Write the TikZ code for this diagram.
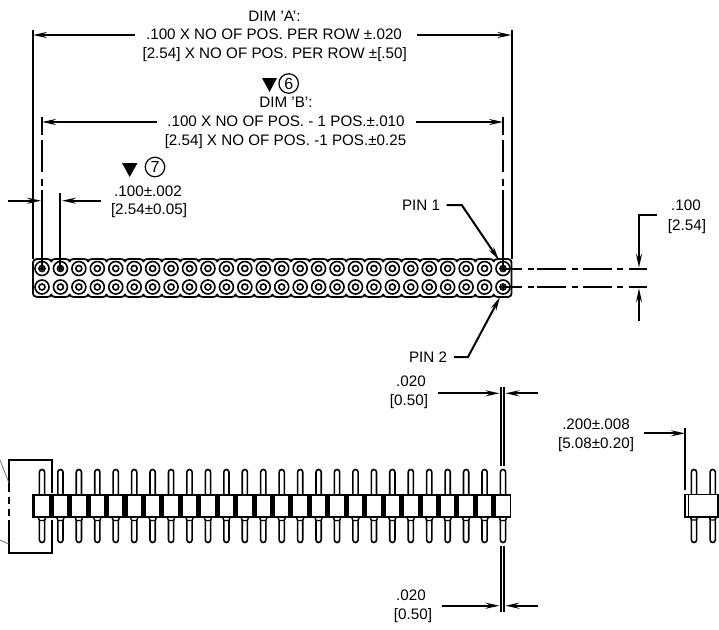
\documentclass[tikz,border=0pt]{standalone}
\usepackage{fontspec}
\setmainfont{Liberation Sans}
\usetikzlibrary{arrows.meta}
\tikzset{
  x=1pt,y=-1pt,
  lbl/.style={anchor=base,inner sep=0pt,font=\fontsize{15.2}{17}\selectfont},
  ln/.style={line width=2pt,line cap=butt},
  thin gray/.style={line width=0.7pt,draw=black!60},
  dimarrow/.style={ln,-{Stealth[length=14pt,width=6pt,inset=5pt]}},
  pinshape/.style={draw=black,fill=white,line width=1.6pt,rounded corners=2.6pt},
  tri/.style={fill=black,draw=none},
  balloon/.style={circle,draw=black,line width=1.2pt,minimum size=19.5pt,inner sep=0pt,font=\fontsize{16}{17}\selectfont},
}
\begin{document}
\begin{tikzpicture}
\useasboundingbox (0,0) rectangle (719,629);
% ---------- texts
\node[lbl] (dimAa) at (274.5,21) {DIM 'A':};
\node[lbl] (dimAb) at (274,39) {.100 X NO OF POS. PER ROW ±.020};
\node[lbl] (dimAc) at (274.7,58) {[2.54] X NO OF POS. PER ROW ±[.50]};
\node[lbl] (dimBa) at (286,107.5) {DIM 'B':};
\node[lbl] (dimBb) at (286,126.5) {.100 X NO OF POS. - 1 POS.±.010};
\node[lbl] (dimBc) at (285.5,145) {[2.54] X NO OF POS. -1 POS.±0.25};
\node[lbl] (pitcha) at (148,196) {.100±.002};
\node[lbl] (pitchb) at (149,214) {[2.54±0.05]};
\node[lbl] (pinone) at (421,210.5) {PIN 1};
\node[lbl] (pintwo) at (428,362.5) {PIN 2};
\node[lbl] (rowa) at (686,210.5) {.100};
\node[lbl] (rowb) at (687,230) {[2.54]};
\node[lbl] (toa) at (411,386) {.020};
\node[lbl] (tob) at (409,405) {[0.50]};
\node[lbl] (boa) at (411,600) {.020};
\node[lbl] (bob) at (413,619) {[0.50]};
\node[lbl] (wida) at (596,429) {.200±.008};
\node[lbl] (widb) at (596,448) {[5.08±0.20]};
% ---------- balloons
\fill[tri] (262,78) -- (277,78) -- (269.5,92) -- cycle;
\node[balloon] (bsix) at (288.7,83.5) {6};
\fill[tri] (122,163) -- (137.5,163) -- (129.7,177) -- cycle;
\node[balloon] (bseven) at (155,167) {7};
% ---------- extension lines
\draw[ln] (33,30) -- (33,259);
\draw[ln] (511.5,30) -- (511.5,259);
\foreach \xx in {42,503}{
  \draw[ln] (\xx,117) -- (\xx,135);
  \draw[ln] (\xx,140) -- (\xx,172);
  \draw[ln] (\xx,179) -- (\xx,186);
  \draw[ln] (\xx,190) -- (\xx,268.5);
}
\draw[ln] (60.4,193) -- (60.4,268.5);
% ---------- dim arrows top
\coordinate (aL) at (33,35); \coordinate (aR) at (511.5,35);
\coordinate (bL) at (42,122); \coordinate (bR) at (503,122);
\coordinate (aLs) at (135,35); \coordinate (aRs) at (416.7,35);
\coordinate (bLs) at (157,122); \coordinate (bRs) at (416,122);
\draw[dimarrow] (aLs) -- (aL);
\draw[dimarrow] (aRs) -- (aR);
\draw[dimarrow] (bLs) -- (bL);
\draw[dimarrow] (bRs) -- (bR);
\coordinate (cLs) at (8,200.7); \coordinate (cL) at (41,200.7);
\coordinate (cRs) at (100.7,200.7); \coordinate (cR) at (62,200.7);
\draw[dimarrow] (cLs) -- (cL);
\draw[dimarrow] (cRs) -- (cR);
% ---------- top view strip
\draw[line width=1.8pt,fill=white,line join=round]
  (33,264) .. controls (33,260.5) and (34,259) .. (37,259)
  \foreach \i in {0,...,24}{
    -- ({42+18.44*\i+5},259)
    .. controls ({42+18.44*\i+7.5},259) and ({42+18.44*\i+9},260) .. ({42+18.44*\i+9.22},261.5)
    .. controls ({42+18.44*\i+9.44},260) and ({42+18.44*\i+11},259) .. ({42+18.44*\i+13.44},259)
  }
  -- (508,259) .. controls (510.5,259) and (511.5,260.5) .. (511.5,264)
  -- (511.5,292) .. controls (511.5,295.5) and (510.5,297) .. (508,297)
  \foreach \i in {24,...,0}{
    -- ({42+18.44*\i+13.44},297)
    .. controls ({42+18.44*\i+11},297) and ({42+18.44*\i+9.44},296) .. ({42+18.44*\i+9.22},294.5)
    .. controls ({42+18.44*\i+9},296) and ({42+18.44*\i+7.5},297) .. ({42+18.44*\i+5},297)
  }
  -- (37,297) .. controls (34,297) and (33,295.5) .. (33,292) -- cycle;
\foreach \i in {0,...,25}{
  \foreach \yy in {268.5,287}{
    \draw[line width=1.6pt] ({42+18.44*\i},\yy) circle[radius=7pt];
    \draw[line width=1.6pt] ({42+18.44*\i},\yy) circle[radius=3pt];
  }
}
\foreach \p in {(42,268.5),(60.4,268.5),(503,268.5),(503,287)}{
  \fill \p circle[radius=2pt];
}
% redraw verticals over the circles
\draw[ln] (42,255) -- (42,268.5);
\draw[ln] (60.4,255) -- (60.4,268.5);
\draw[ln] (503,255) -- (503,268.5);
% ---------- centre lines
\foreach \yy in {268.5,287}{
  \foreach \a/\b in {503/522,528/534,537/566,572/578,583/612,617/623,629/647}{
    \draw[ln] (\a,\yy) -- (\b,\yy);
  }
}
% ---------- .100 row pitch
\coordinate (rs) at (656.7,215); \coordinate (rc) at (639,215); \coordinate (rt) at (639,267.7);
\coordinate (rb) at (639,320.7); \coordinate (rbt) at (639,288.3);
\draw[dimarrow] (rs) -- (rc) -- (rt);
\draw[dimarrow] (rb) -- (rbt);
% ---------- pin leaders
\coordinate (p1a) at (446.7,205); \coordinate (p1b) at (461.7,205); \coordinate (p1c) at (499,260);
\coordinate (p2a) at (454,357); \coordinate (p2b) at (468,357); \coordinate (p2c) at (500,297);
\draw[dimarrow] (p1a) -- (p1b) -- (p1c);
\draw[dimarrow] (p2a) -- (p2b) -- (p2c);
% ---------- side view pins
\foreach \i in {0,...,25}{
  \path[pinshape] ({42+18.44*\i-2.6},469.5) rectangle ({42+18.44*\i+2.6},500);
  \path[pinshape] ({42+18.44*\i-2.6},510) rectangle ({42+18.44*\i+2.6},542.5);
}
% body
\fill[black] (32,494) rectangle (511,518);
\foreach \i in {0,...,25}{
  \fill[white] ({42+18.44*\i-6.7},496) rectangle ({42+18.44*\i+6.7},516);
  \draw[line width=1.4pt,fill=white] ({42+18.44*\i-3.6},518) -- ({42+18.44*\i-2.4},520.5) -- ({42+18.44*\i+2.4},520.5) -- ({42+18.44*\i+3.6},518);
}
% break box
\draw[ln] (9,492) -- (9,460) -- (51.7,460) -- (51.7,493);
\draw[ln] (51.7,520) -- (51.7,553) -- (9,553) -- (9,520);
\draw[ln] (9,497) -- (9,504);
\draw[ln] (9,509) -- (9,516);
\coordinate (lg1) at (0,460); \coordinate (lg2) at (9,483);
\coordinate (lg3) at (0,540); \coordinate (lg4) at (9,544);
\draw[thin gray] (lg1) -- (lg2);
\draw[thin gray] (lg3) -- (lg4);
% ---------- .020 dims
\draw[ln] (500.6,387) -- (500.6,466);
\draw[ln] (504.2,387) -- (504.2,466);
\draw[ln] (500.6,546) -- (500.6,612);
\draw[ln] (504.2,546) -- (504.2,612);
\coordinate (tl) at (438,393.3); \coordinate (tlt) at (499.5,393.3);
\coordinate (tr) at (538,393.3); \coordinate (trt) at (505.3,393.3);
\coordinate (bl) at (442,605.7); \coordinate (blt) at (499.5,605.7);
\coordinate (br) at (538,605.7); \coordinate (brt) at (505.3,605.7);
\draw[dimarrow] (tl) -- (tlt);
\draw[dimarrow] (tr) -- (trt);
\draw[dimarrow] (bl) -- (blt);
\draw[dimarrow] (br) -- (brt);
% ---------- end view
\foreach \xx in {694,712.7}{
  \path[pinshape] (\xx-2.6,469.5) rectangle (\xx+2.6,500);
  \path[pinshape] (\xx-2.6,510) rectangle (\xx+2.6,542.5);
}
\draw[line width=1.8pt,fill=white] (685,494.5) rectangle (718,517);
\draw[line width=1.4pt] (688.6,494.5) -- (688.6,517);
\foreach \xx in {694,712.7}{
  \draw[line width=1.4pt] (\xx-3.6,517) -- (\xx-2.4,520) -- (\xx+2.4,520) -- (\xx+3.6,517);
}
\draw[ln] (685,428) -- (685,490);
\coordinate (ws) at (644,433.3); \coordinate (wt) at (685,433.3);
\draw[dimarrow] (ws) -- (wt);
\end{tikzpicture}
\end{document}
